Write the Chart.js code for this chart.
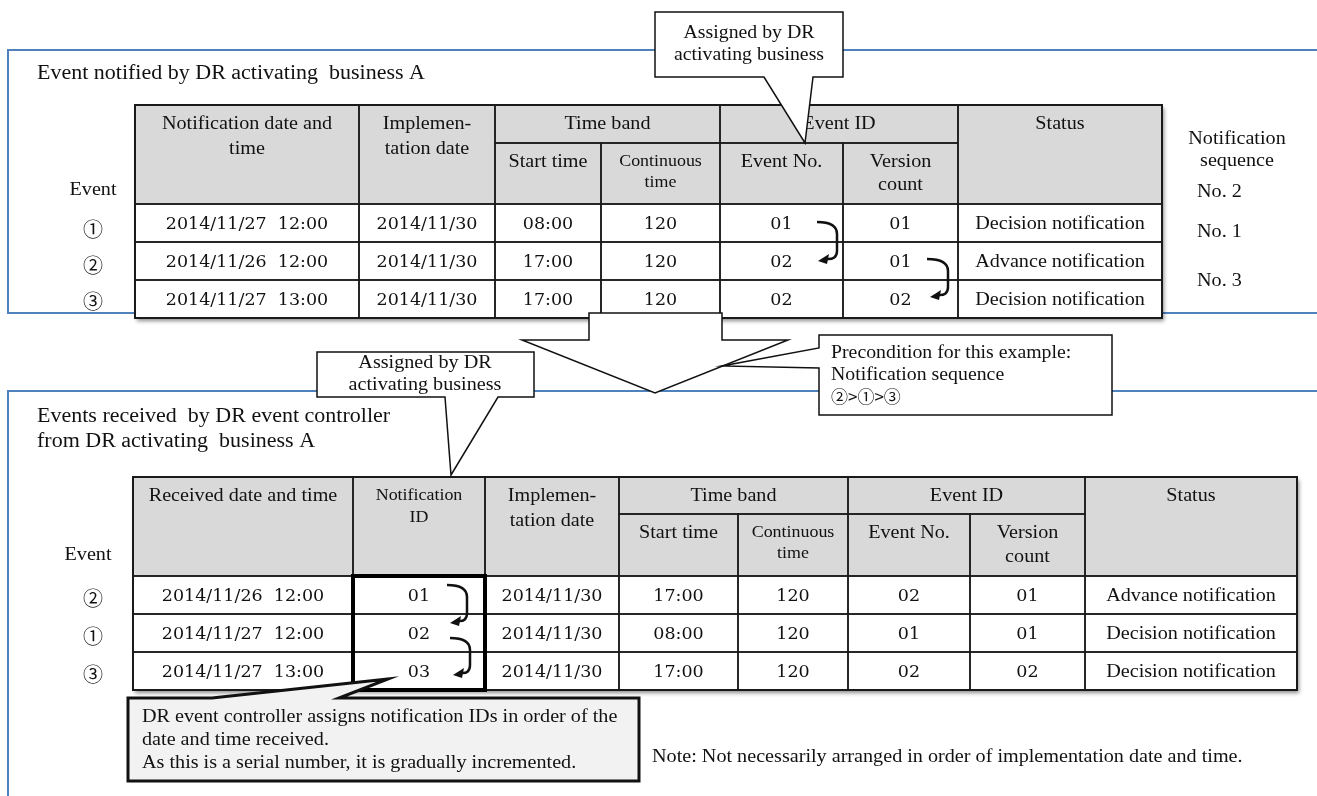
<!DOCTYPE html>
<html>
<head>
<meta charset="utf-8">
<title>DR event notification IDs</title>
<script src="https://cdn.jsdelivr.net/npm/chart.js@4.4.1/dist/chart.umd.min.js"></script>
<style>
    html, body { margin: 0; padding: 0; background: #fff; }
    #diagram { display: block; }
</style>
</head>
<body>
<canvas id="diagram" width="1317" height="796"></canvas>
<script>
// Table contents: events notified by business A (order ①, ②, ③)
const topEvents = ['①', '②', '③'];
const topNotified = ['2014/11/27  12:00', '2014/11/26  12:00', '2014/11/27  13:00'];
const topImplDate = ['2014/11/30', '2014/11/30', '2014/11/30'];
const topStart = ['08:00', '17:00', '17:00'];
const topDuration = ['120', '120', '120'];
const topEventNo = ['01', '02', '02'];
const topVersion = ['01', '01', '02'];
const topStatus = ['Decision notification', 'Advance notification', 'Decision notification'];
const topSequence = ['No. 2', 'No. 1', 'No. 3'];

// Table contents: events received by the DR event controller (order ②, ①, ③)
const recvEvents = ['②', '①', '③'];
const recvDate = ['2014/11/26  12:00', '2014/11/27  12:00', '2014/11/27  13:00'];
const recvNotifId = ['01', '02', '03'];
const recvImplDate = ['2014/11/30', '2014/11/30', '2014/11/30'];
const recvStart = ['17:00', '08:00', '17:00'];
const recvDuration = ['120', '120', '120'];
const recvEventNo = ['02', '01', '02'];
const recvVersion = ['01', '01', '02'];
const recvStatus = ['Advance notification', 'Decision notification', 'Decision notification'];

// Layout (diagram units = pixels of the 1317x796 picture)
const SERIF = "'Liberation Serif', 'Times New Roman', serif";
const DIGITS = "'DejaVu Serif', serif";
const CIRCLED = "'Noto Sans CJK JP', 'DejaVu Sans', sans-serif";
const BLUE = '#4f81bd';
const WIDEN = 1.12;

const topTable = {
    cols: [135, 359, 495, 601, 720, 843, 958, 1162],
    rows: [105, 143, 204, 242, 280, 318],
    headers: [
        { c: [0, 1], r: 'full', lines: ['Notification date and', 'time'] },
        { c: [1, 2], r: 'full', lines: ['Implemen-', 'tation date'] },
        { c: [2, 4], r: 'top', lines: ['Time band'] },
        { c: [2, 3], r: 'bottom', lines: ['Start time'] },
        { c: [3, 4], r: 'bottom', lines: ['Continuous', 'time'], size: 16, lh: 21 },
        { c: [4, 6], r: 'top', lines: ['Event ID'] },
        { c: [4, 5], r: 'bottom', lines: ['Event No.'] },
        { c: [5, 6], r: 'bottom', lines: ['Version', 'count'], lh: 23 },
        { c: [6, 7], r: 'full', lines: ['Status'] }
    ],
    body: [topNotified, topImplDate, topStart, topDuration, topEventNo, topVersion, topStatus]
};

const recvTable = {
    cols: [133, 353, 485, 619, 738, 848, 970, 1085, 1297],
    rows: [477, 514, 576, 614, 652, 690],
    headers: [
        { c: [0, 1], r: 'full', lines: ['Received date and time'] },
        { c: [1, 2], r: 'full', lines: ['Notification', 'ID'], size: 16, lh: 22 },
        { c: [2, 3], r: 'full', lines: ['Implemen-', 'tation date'] },
        { c: [3, 5], r: 'top', lines: ['Time band'] },
        { c: [3, 4], r: 'bottom', lines: ['Start time'] },
        { c: [4, 5], r: 'bottom', lines: ['Continuous', 'time'], size: 16, lh: 21 },
        { c: [5, 7], r: 'top', lines: ['Event ID'] },
        { c: [5, 6], r: 'bottom', lines: ['Event No.'] },
        { c: [6, 7], r: 'bottom', lines: ['Version', 'count'], lh: 24 },
        { c: [7, 8], r: 'full', lines: ['Status'] }
    ],
    body: [recvDate, recvNotifId, recvImplDate, recvStart, recvDuration, recvEventNo, recvVersion, recvStatus]
};

const diagramPlugin = {
    id: 'drDiagram',
    beforeDraw(chart) {
        const c = chart.ctx;
        c.save();
        c.fillStyle = '#fff';
        c.fillRect(0, 0, chart.width, chart.height);
        c.restore();
    },
    afterDraw(chart) {
        const c = chart.ctx;
        const sx = chart.scales.x, sy = chart.scales.y;
        const X = v => sx.getPixelForValue(v);
        const Y = v => sy.getPixelForValue(v);

        const text = (str, x, y, size, align = 'center', family = SERIF, widen = WIDEN) => {
            c.save();
            c.font = `${size}px ${family}`;
            c.fillStyle = '#111';
            c.textAlign = align;
            c.textBaseline = 'middle';
            c.translate(X(x), Y(y));
            c.scale(widen, 1);
            c.fillText(str, 0, 0);
            c.restore();
        };
        const line = (pts, color, w) => {
            c.beginPath();
            pts.forEach((p, i) => i ? c.lineTo(X(p[0]), Y(p[1])) : c.moveTo(X(p[0]), Y(p[1])));
            c.strokeStyle = color;
            c.lineWidth = w;
            c.stroke();
        };
        const shape = (pts, fill, w) => {
            c.beginPath();
            pts.forEach((p, i) => i ? c.lineTo(X(p[0]), Y(p[1])) : c.moveTo(X(p[0]), Y(p[1])));
            c.closePath();
            c.fillStyle = fill;
            c.fill();
            c.strokeStyle = '#111';
            c.lineWidth = w;
            c.lineJoin = 'miter';
            c.stroke();
        };
        const curvedArrow = (s, e, bx) => {
            c.beginPath();
            c.moveTo(X(s[0]), Y(s[1]));
            c.quadraticCurveTo(X(bx), Y(s[1]), X(bx), Y(s[1] + 12));
            c.lineTo(X(bx), Y(e[1] - 10));
            c.quadraticCurveTo(X(bx), Y(e[1] - 1), X(e[0] + 8), Y(e[1] - 2));
            c.strokeStyle = '#111';
            c.lineWidth = 2.5;
            c.stroke();
            // arrow head pointing left
            c.beginPath();
            c.moveTo(X(e[0]), Y(e[1]));
            c.lineTo(X(e[0] + 11), Y(e[1] - 7));
            c.lineTo(X(e[0] + 9), Y(e[1] + 3));
            c.closePath();
            c.fillStyle = '#111';
            c.fill();
        };

        const drawTable = (t) => {
            const xs = t.cols, ys = t.rows;
            const left = xs[0], right = xs[xs.length - 1];
            // shadow + white base
            c.save();
            c.shadowColor = 'rgba(0,0,0,0.45)';
            c.shadowBlur = 4;
            c.shadowOffsetX = 2;
            c.shadowOffsetY = 3;
            c.fillStyle = '#fff';
            c.fillRect(X(left), Y(ys[0]), X(right) - X(left), Y(ys[5]) - Y(ys[0]));
            c.restore();
            // header background
            c.fillStyle = '#d9d9d9';
            c.fillRect(X(left), Y(ys[0]), X(right) - X(left), Y(ys[2]) - Y(ys[0]));
            t.headers.forEach(h => {
                const x0 = xs[h.c[0]], x1 = xs[h.c[1]];
                const y0 = h.r === 'bottom' ? ys[1] : ys[0];
                const y1 = h.r === 'top' ? ys[1] : ys[2];
                c.strokeStyle = '#1a1a1a';
                c.lineWidth = 1.5;
                c.strokeRect(X(x0), Y(y0), X(x1) - X(x0), Y(y1) - Y(y0));
                const size = h.size || 18;
                const lh = h.lh || 25;
                h.lines.forEach((s, i) => text(s, (x0 + x1) / 2, y0 + 19 + i * lh, size));
            });
            t.body.forEach((col, ci) => {
                col.forEach((val, ri) => {
                    const x0 = xs[ci], x1 = xs[ci + 1];
                    const y0 = ys[3 + ri - 1], y1 = ys[3 + ri];
                    c.strokeStyle = '#1a1a1a';
                    c.lineWidth = 1.5;
                    c.strokeRect(X(x0), Y(y0), X(x1) - X(x0), Y(y1) - Y(y0));
                    if (/^[\d\/: ]+$/.test(val)) {
                        text(val, (x0 + x1) / 2, (y0 + y1) / 2 + 1, 17.5, 'center', DIGITS, 1);
                    } else {
                        text(val, (x0 + x1) / 2, (y0 + y1) / 2 + 1, 18);
                    }
                });
            });
            c.strokeStyle = '#1a1a1a';
            c.lineWidth = 2;
            c.strokeRect(X(left), Y(ys[0]), X(right) - X(left), Y(ys[5]) - Y(ys[0]));
        };

        // blue panel frames
        line([[1317, 50], [8, 50], [8, 313], [1317, 313]], BLUE, 2);
        line([[1317, 391], [8, 391], [8, 796]], BLUE, 2);

        // upper panel
        text('Event notified by DR activating  business A', 37, 74, 20, 'left', SERIF, 1.1);
        drawTable(topTable);
        text('Event', 93, 190, 18);
        topEvents.forEach((ev, i) => text(ev, 93, (topTable.rows[2 + i] + topTable.rows[3 + i]) / 2 + 6 - i * 2, 20, 'center', CIRCLED, 1));
        text('Notification', 1237, 139, 18);
        text('sequence', 1237, 161, 18);
        const seqY = [192, 232, 281];
        topSequence.forEach((s, i) => text(s, 1197, seqY[i], 18, 'left'));
        curvedArrow([817, 222], [818, 261], 837);
        curvedArrow([927, 259], [930, 297], 948);

        // block arrow between the panels
        shape([[589, 313], [722, 313], [722, 340], [788, 340], [655, 393], [522, 340], [589, 340]], '#fff', 1.5);

        // callouts
        shape([[655, 12], [843, 12], [843, 77], [813, 77], [805, 143], [764, 77], [655, 77]], '#fff', 1.5);
        text('Assigned by DR', 749, 33, 18, 'center', SERIF, 1.1);
        text('activating business', 749, 55, 18, 'center', SERIF, 1.1);

        shape([[819, 335], [1112, 335], [1112, 415], [819, 415], [819, 368], [722, 366], [819, 348]], '#fff', 1.5);
        text('Precondition for this example:', 831, 353, 18, 'left', SERIF, 1.1);
        text('Notification sequence', 831, 375, 18, 'left', SERIF, 1.1);
        text('②>①>③', 831, 397, 17, 'left', CIRCLED, 1);

        // lower panel
        text('Events received  by DR event controller', 37, 417, 20, 'left', SERIF, 1.1);
        text('from DR activating  business A', 37, 442, 20, 'left', SERIF, 1.1);
        drawTable(recvTable);
        text('Event', 88, 555, 18);
        recvEvents.forEach((ev, i) => text(ev, 93, (recvTable.rows[2 + i] + recvTable.rows[3 + i]) / 2 + 3, 20, 'center', CIRCLED, 1));

        shape([[317, 352], [534, 352], [534, 397], [498, 397], [451, 475], [445, 397], [317, 397]], '#fff', 1.5);
        text('Assigned by DR', 425, 363, 18, 'center', SERIF, 1.12);
        text('activating business', 425, 385, 18, 'center', SERIF, 1.12);

        // thick frame round the notification ID cells
        c.strokeStyle = '#000';
        c.lineWidth = 4;
        c.strokeRect(X(353), Y(576), X(485) - X(353), Y(690) - Y(576));

        curvedArrow([447, 585], [450, 623], 467);
        curvedArrow([450, 638], [453, 675], 470);

        shape([[128, 698], [212, 698], [388, 679], [339, 698], [639, 698], [639, 781], [128, 781]], '#f2f2f2', 3);
        text('DR event controller assigns notification IDs in order of the', 142, 717, 18, 'left');
        text('date and time received.', 142, 740, 18, 'left');
        text('As this is a serial number, it is gradually incremented.', 142, 763, 18, 'left');

        text('Note: Not necessarily arranged in order of implementation date and time.', 652, 757, 18, 'left');
    }
};

const ctx = document.getElementById('diagram').getContext('2d');
new Chart(ctx, {
    type: 'scatter',
    data: { datasets: [] },
    options: {
        responsive: false,
        animation: false,
        events: [],
        layout: { padding: 0 },
        plugins: { legend: { display: false }, tooltip: { enabled: false } },
        scales: {
            x: { type: 'linear', min: 0, max: 1317, display: false },
            y: { type: 'linear', min: 0, max: 796, reverse: true, display: false }
        }
    },
    plugins: [diagramPlugin]
});
</script>
</body>
</html>
